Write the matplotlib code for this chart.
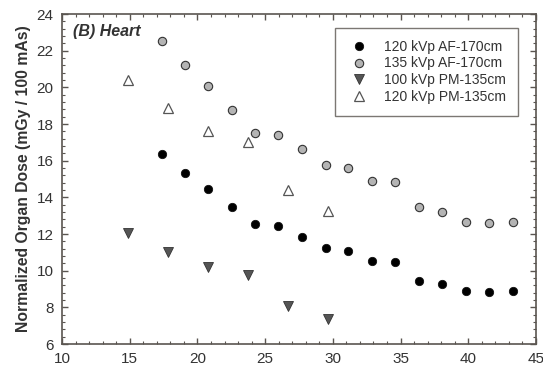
import matplotlib
matplotlib.use("Agg")
import matplotlib.pyplot as plt
from matplotlib.ticker import MultipleLocator

plt.rcParams['font.family'] = ['Liberation Sans', 'DejaVu Sans']

# 120 kVp AF-170cm / 135 kVp AF-170cm share the same x positions
x_af = [17.36, 19.08, 20.80, 22.53, 24.25, 25.97, 27.70, 29.48,
        31.15, 32.92, 34.59, 36.39, 38.07, 39.86, 41.54, 43.31]
dose_120_af = [16.35, 15.33, 14.47, 13.49, 12.54, 12.45, 11.85, 11.22,
               11.09, 10.54, 10.49, 9.45, 9.29, 8.87, 8.83, 8.89]
dose_135_af = [22.53, 21.22, 20.07, 18.76, 17.53, 17.40, 16.62, 15.76,
               15.58, 14.89, 14.85, 13.45, 13.21, 12.67, 12.61, 12.67]

# PM-135cm protocols
x_pm = [14.85, 17.80, 20.76, 23.71, 26.72, 29.62]
dose_100_pm = [12.03, 11.03, 10.18, 9.76, 8.07, 7.36]
dose_120_pm = [20.40, 18.89, 17.62, 17.04, 14.40, 13.25]

axis_col = '#5a5550'
text_col = '#333333'

fig = plt.figure(figsize=(5.43, 3.67), dpi=100)
ax = fig.add_axes([62 / 543, 1 - 344 / 367, 474 / 543, 330 / 367])

ax.plot(x_af, dose_120_af, 'o', ms=6, color='black', mec='#111111', mew=0.6,
        label='120 kVp AF-170cm')
ax.plot(x_af, dose_135_af, 'o', ms=6, color='#b4b4b4', mec='#333333', mew=0.8,
        label='135 kVp AF-170cm')
ax.plot(x_pm, dose_100_pm, 'v', ms=6.5, color='#555555', mec='#333333', mew=0.6,
        label='100 kVp PM-135cm')
ax.plot(x_pm, dose_120_pm, '^', ms=6.5, color='white', mec='#555555', mew=0.9,
        label='120 kVp PM-135cm')

ax.set_xlim(10, 45)
ax.set_ylim(6, 24)
ax.xaxis.set_major_locator(MultipleLocator(5))
ax.xaxis.set_minor_locator(MultipleLocator(1))
ax.yaxis.set_major_locator(MultipleLocator(2))
ax.yaxis.set_minor_locator(MultipleLocator(0.4))

ax.tick_params(which='both', direction='in', top=True, right=True,
               color=axis_col, labelcolor=text_col, labelsize=11)
ax.tick_params(which='major', length=4, width=1)
ax.tick_params(which='minor', length=2, width=0.8)
ax.tick_params(axis='x', which='major', pad=6)
ax.tick_params(axis='y', which='major', pad=6)
for s in ax.spines.values():
    s.set_color(axis_col)
    s.set_linewidth(1.2)

ax.set_ylabel('Normalized Organ Dose (mGy / 100 mAs)', fontsize=11.3,
              fontweight='bold', color=text_col, labelpad=4)
ax.text(0.023, 0.946, '(B) Heart', transform=ax.transAxes, fontsize=11.5,
        fontweight='bold', fontstyle='italic', color=text_col, va='center')

leg = ax.legend(loc='upper right', bbox_to_anchor=(0.962, 0.958), fontsize=10,
                frameon=True, fancybox=False, borderpad=0.85, handletextpad=0.9,
                labelspacing=0.2, borderaxespad=0, handlelength=1.8)
leg.get_frame().set_edgecolor(axis_col)
leg.get_frame().set_linewidth(1.0)
for t in leg.get_texts():
    t.set_color(text_col)

fig.savefig('out.png', dpi=100)
